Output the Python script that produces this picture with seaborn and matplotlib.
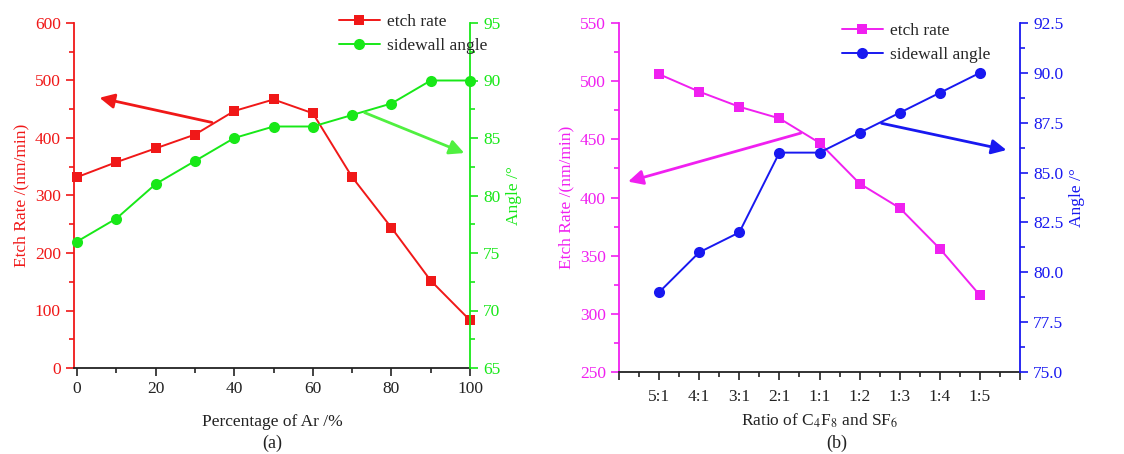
import numpy as np
import pandas as pd
import matplotlib
matplotlib.use('Agg')
import matplotlib.pyplot as plt
import seaborn as sns
from matplotlib.ticker import MultipleLocator, FixedLocator

sns.set_theme(style='white')
plt.rcParams['font.family'] = ['Liberation Serif', 'DejaVu Serif']
plt.rcParams['mathtext.fontset'] = 'stix'
plt.rcParams['font.size'] = 12

# (a) Ar percentage series
ar_pct = [0, 10, 20, 30, 40, 50, 60, 70, 80, 90, 100]
etch_a = [332, 358, 382, 406, 447, 467, 443, 332, 244, 152, 83]
angle_a = [76, 78, 81, 83, 85, 86, 86, 87, 88, 90, 90]

# (b) C4F8:SF6 ratio series
ratios = ['5:1', '4:1', '3:1', '2:1', '1:1', '1:2', '1:3', '1:4', '1:5']
etch_b = [506, 491, 478, 468, 447, 412, 391, 356, 316]
angle_b = [79, 81, 82, 86, 86, 87, 88, 89, 90]

RED, GREEN = '#f01818', '#18e818'
MAG, BLUE = '#f020f0', '#1818f0'

W, H = 1124, 454
fig = plt.figure(figsize=(W / 100, H / 100), dpi=100)


def style_axes(ax, ax2, c1, c2):
    for a in (ax, ax2):
        for s in a.spines.values():
            s.set_linewidth(1.3)
        a.spines['top'].set_visible(False)
        a.tick_params(which='both', direction='out', width=1.2, labelsize=12.5)
        a.tick_params(which='major', length=6)
        a.tick_params(which='minor', length=3.5)
        a.grid(False)
    ax.spines['left'].set_color(c1)
    ax.spines['right'].set_visible(False)
    ax.spines['bottom'].set_color('#222222')
    ax2.spines['left'].set_visible(False)
    ax2.spines['bottom'].set_visible(False)
    ax2.spines['right'].set_color(c2)
    ax.tick_params(axis='y', which='both', colors=c1, left=True)
    ax.tick_params(axis='x', which='both', colors='#222222', bottom=True)
    ax2.tick_params(axis='y', which='both', colors=c2, right=True)


# ---------- panel (a) ----------
ax = fig.add_axes([74 / W, 1 - 368 / H, 396 / W, 345 / H])
ax2 = ax.twinx()
df_a = pd.DataFrame({'ar': ar_pct, 'etch': etch_a, 'angle': angle_a})
sns.lineplot(data=df_a, x='ar', y='etch', ax=ax, color=RED, marker='s',
             markersize=7.5, markeredgewidth=0, lw=1.4, label='etch rate',
             legend=False, clip_on=False, zorder=3)
sns.lineplot(data=df_a, x='ar', y='angle', ax=ax2, color=GREEN, marker='o',
             markersize=8, markeredgewidth=0, lw=1.4, label='sidewall angle',
             legend=False, clip_on=False, zorder=3)
ax.set_xlim(-0.8, 100)
ax.set_ylim(0, 600)
ax2.set_ylim(65, 95)
ax.xaxis.set_major_locator(MultipleLocator(20))
ax.xaxis.set_minor_locator(MultipleLocator(10))
ax.yaxis.set_major_locator(MultipleLocator(100))
ax.yaxis.set_minor_locator(MultipleLocator(50))
ax2.yaxis.set_major_locator(MultipleLocator(5))
ax2.yaxis.set_minor_locator(MultipleLocator(2.5))
style_axes(ax, ax2, RED, GREEN)
ax.set_xlabel('Percentage of Ar /%', fontsize=12.5, color='#222222', labelpad=12)
ax.set_ylabel('Etch Rate /(nm/min)', fontsize=12.5, color=RED, labelpad=4)
ax2.set_ylabel('Angle /°', fontsize=12.5, color=GREEN, labelpad=4)
ax.annotate('', xy=(5, 471), xytext=(35, 426),
            arrowprops=dict(arrowstyle='-|>', color=RED, lw=2, mutation_scale=22))
ax2.annotate('', xy=(99.2, 83.6), xytext=(72.5, 87.3),
             arrowprops=dict(arrowstyle='-|>', color='#50f040', lw=2, mutation_scale=22))
h1, lab1 = ax.get_legend_handles_labels()
h2, lab2 = ax2.get_legend_handles_labels()
fig.legend(h1 + h2, lab1 + lab2, loc='upper left', bbox_to_anchor=(323 / W, 1 + 2 / H),
           frameon=False, fontsize=12.5, handlelength=2.4, labelspacing=0.45,
           handletextpad=0.4)
fig.text(272 / W, 1 - 443 / H, '(a)', ha='center', va='center', fontsize=13, color='#222222')

# ---------- panel (b) ----------
bx = fig.add_axes([619 / W, 1 - 372 / H, 401 / W, 349 / H])
bx2 = bx.twinx()
df_b = pd.DataFrame({'pos': np.arange(len(ratios)), 'etch': etch_b, 'angle': angle_b})
sns.lineplot(data=df_b, x='pos', y='etch', ax=bx, color=MAG, marker='s',
             markersize=7.5, markeredgewidth=0, lw=1.4, label='etch rate', legend=False)
sns.lineplot(data=df_b, x='pos', y='angle', ax=bx2, color=BLUE, marker='o',
             markersize=8, markeredgewidth=0, lw=1.4, label='sidewall angle', legend=False)
bx.set_xlim(-1, len(ratios))
bx.set_ylim(250, 550)
bx2.set_ylim(75, 92.5)
bx.xaxis.set_major_locator(FixedLocator(np.arange(-1, len(ratios) + 1)))
bx.set_xticklabels([''] + ratios + [''])
bx.xaxis.set_minor_locator(MultipleLocator(0.5))
bx.yaxis.set_major_locator(MultipleLocator(50))
bx.yaxis.set_minor_locator(MultipleLocator(25))
bx2.yaxis.set_major_locator(MultipleLocator(2.5))
bx2.yaxis.set_minor_locator(MultipleLocator(1.25))
bx2.yaxis.set_major_formatter(matplotlib.ticker.FormatStrFormatter('%.1f'))
style_axes(bx, bx2, MAG, BLUE)
bx.tick_params(axis='x', which='major', pad=6)
bx.set_xlabel(r'Ratio of C$_4$F$_8$ and SF$_6$', fontsize=12.5, color='#222222', labelpad=5)
bx.set_ylabel('Etch Rate /(nm/min)', fontsize=12.5, color=MAG, labelpad=4)
bx2.set_ylabel('Angle /°', fontsize=12.5, color=BLUE, labelpad=4)
bx.annotate('', xy=(-0.84, 413), xytext=(3.6, 456),
            arrowprops=dict(arrowstyle='-|>', color=MAG, lw=2, mutation_scale=22))
bx2.annotate('', xy=(8.73, 86.1), xytext=(5.48, 87.5),
             arrowprops=dict(arrowstyle='-|>', color=BLUE, lw=2, mutation_scale=22))
h1, lab1 = bx.get_legend_handles_labels()
h2, lab2 = bx2.get_legend_handles_labels()
fig.legend(h1 + h2, lab1 + lab2, loc='upper left', bbox_to_anchor=(826 / W, 1 - 7 / H),
           frameon=False, fontsize=12.5, handlelength=2.4, labelspacing=0.45,
           handletextpad=0.4)
fig.text(837 / W, 1 - 443 / H, '(b)', ha='center', va='center', fontsize=13, color='#222222')

fig.savefig('out.png', dpi=100)
